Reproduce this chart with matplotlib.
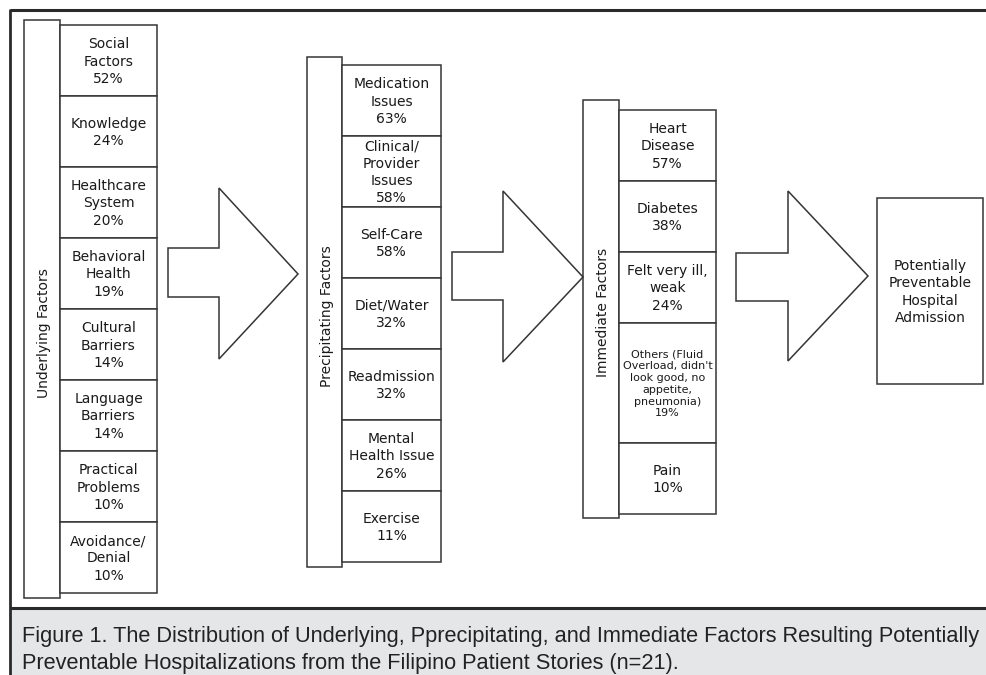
import matplotlib
matplotlib.use("Agg")
import matplotlib.pyplot as plt
from matplotlib.patches import Rectangle, Polygon
from matplotlib import font_manager

# ---------------- data ----------------
underlying_names = ["Social\nFactors", "Knowledge", "Healthcare\nSystem", "Behavioral\nHealth",
                    "Cultural\nBarriers", "Language\nBarriers", "Practical\nProblems", "Avoidance/\nDenial"]
underlying_pcts = [52, 24, 20, 19, 14, 14, 10, 10]

precipitating_names = ["Medication\nIssues", "Clinical/\nProvider\nIssues", "Self-Care", "Diet/Water",
                       "Readmission", "Mental\nHealth Issue", "Exercise"]
precipitating_pcts = [63, 58, 58, 32, 32, 26, 11]

immediate_names = ["Heart\nDisease", "Diabetes", "Felt very ill,\nweak",
                   "Others (Fluid\nOverload, didn't\nlook good, no\nappetite,\npneumonia)", "Pain"]
immediate_pcts = [57, 38, 24, 19, 10]

group_titles = ["Underlying Factors", "Precipitating Factors", "Immediate Factors"]
outcome = "Potentially\nPreventable\nHospital\nAdmission"
caption_lines = ["Figure 1. The Distribution of Underlying, Pprecipitating, and Immediate Factors Resulting Potentially",
                 "Preventable Hospitalizations from the Filipino Patient Stories (n=21)."]

# ---------------- layout ----------------
W, H = 986, 675
fig = plt.figure(figsize=(W / 100, H / 100), dpi=100)
ax = fig.add_axes([0, 0, 1, 1])
ax.set_xlim(0, W)
ax.set_ylim(H, 0)
ax.axis("off")

LC = "#353535"
TC = "#1a1a1a"
LW = 1.1
FS = 10

# caption background and frame
ax.add_patch(Rectangle((10, 608), W, H - 608, facecolor="#e5e6e8", edgecolor="none", zorder=0))
ax.plot([10, W], [10, 10], color="#2a2a2a", lw=2.2, solid_capstyle="butt")
ax.plot([10, W], [608, 608], color="#2a2a2a", lw=2.2, solid_capstyle="butt")
ax.plot([10, 10], [9, H], color="#2a2a2a", lw=2.0, solid_capstyle="butt")

avail = {f.name for f in font_manager.fontManager.ttflist}
cap_family = "Liberation Sans Narrow" if "Liberation Sans Narrow" in avail else "Liberation Sans"
t1 = ax.text(22, 642, caption_lines[0], ha="left", va="baseline", fontsize=16, family=cap_family,
             color="#222222")
t2 = ax.text(22, 669, caption_lines[1], ha="left", va="baseline", fontsize=16, family=cap_family,
             color="#222222")
# fit caption width to the panel (first line ends near the right edge)
fig.canvas.draw()
r = fig.canvas.get_renderer()
w = t1.get_window_extent(r).width
fs = 16 * 962.0 / w
fs = min(fs, 18)
t1.set_fontsize(fs)
t2.set_fontsize(fs)


def column(label_box, title_y, item_x, item_top, heights, names, pcts, title, small_idx=None):
    lx0, lx1, ly0, ly1 = label_box
    ax.add_patch(Rectangle((lx0, ly0), lx1 - lx0, ly1 - ly0, facecolor="white", edgecolor=LC, lw=LW))
    ax.text((lx0 + lx1) / 2 + 2, title_y, title, rotation=90, ha="center", va="center",
            fontsize=FS, color=TC)
    ix0, ix1 = item_x
    y = item_top
    for i, (h, n, p) in enumerate(zip(heights, names, pcts)):
        ax.add_patch(Rectangle((ix0, y), ix1 - ix0, h, facecolor="white", edgecolor=LC, lw=LW))
        f = 8 if i == small_idx else FS
        ax.text((ix0 + ix1) / 2, y + h / 2 + 1, f"{n}\n{p}%", ha="center", va="center",
                fontsize=f, color=TC, linespacing=1.3 if f == FS else 1.22)
        y += h


def arrow(shaft_x, head_x, tip_x, shaft_y, head_y, tip_y):
    sx, hx, tx = shaft_x, head_x, tip_x
    st, sb = shaft_y
    ht, hb = head_y
    pts = [(sx, st), (hx, st), (hx, ht), (tx, tip_y), (hx, hb), (hx, sb), (sx, sb)]
    ax.add_patch(Polygon(pts, closed=True, facecolor="white", edgecolor=LC, lw=LW))


column((24, 60, 20, 598), 333, (60, 157), 25, [71] * 8, underlying_names, underlying_pcts, group_titles[0])
column((307, 342, 57, 567), 316, (342, 441), 65, [71] * 7, precipitating_names, precipitating_pcts,
       group_titles[1])
column((583, 619, 100, 518), 312, (619, 716), 110, [71, 71, 71, 120, 71], immediate_names, immediate_pcts,
       group_titles[2], small_idx=3)

arrow(168, 219, 298, (248, 297), (188, 359), 274)
arrow(452, 503, 583, (252, 300), (191, 362), 277)
arrow(736, 788, 868, (253, 301), (191, 361), 276)

ax.add_patch(Rectangle((877, 198), 106, 186, facecolor="white", edgecolor=LC, lw=LW))
ax.text(930, 292, outcome, ha="center", va="center", fontsize=FS, color=TC, linespacing=1.3)

fig.savefig("out.png", dpi=100)
